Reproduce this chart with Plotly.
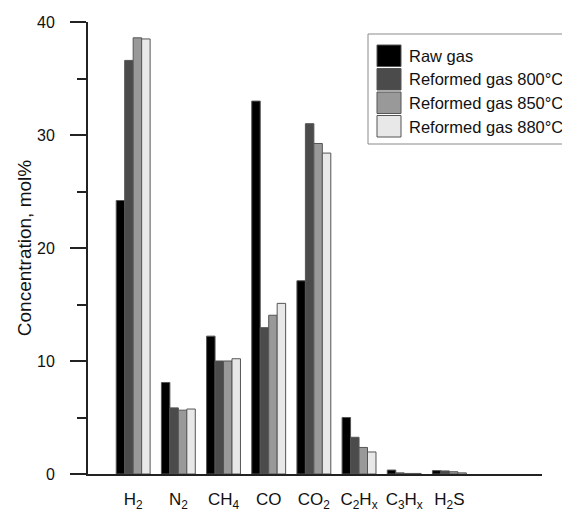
import plotly.graph_objects as go

# ---- data ----
categories = ["H<sub>2</sub>", "N<sub>2</sub>", "CH<sub>4</sub>", "CO", "CO<sub>2</sub>",
              "C<sub>2</sub>H<sub>x</sub>", "C<sub>3</sub>H<sub>x</sub>", "H<sub>2</sub>S"]
series_names = ["Raw gas", "Reformed gas 800°C", "Reformed gas 850°C", "Reformed gas 880°C"]
raw_gas = [24.2, 8.1, 12.2, 33.0, 17.1, 5.0, 0.35, 0.3]
reformed_800 = [36.6, 5.85, 10.0, 12.95, 31.0, 3.25, 0.1, 0.27]
reformed_850 = [38.6, 5.65, 10.0, 14.05, 29.25, 2.35, 0.05, 0.2]
reformed_880 = [38.5, 5.75, 10.2, 15.1, 28.4, 1.95, 0.05, 0.1]
y_ticks = [0, 10, 20, 30, 40]
y_minor = [5, 15, 25, 35]

colors = ["#000000", "#4b4b4b", "#999999", "#e8e8e8"]
FONT = "Liberation Sans, Arial, sans-serif"

# the page body has an 8px margin, so the figure is drawn 8px in from the top-left
OFF = 8
W, H = 570 - OFF, 511 - OFF
ML, MR, MT, MB = 88 - OFF, 28, 22 - OFF, 37
PW, PH = W - ML - MR, H - MT - MB


def px(x):  # screen x -> paper
    return (x - OFF - ML) / PW


def py(y):  # screen y -> paper
    return (511 - MB - y) / PH


fig = go.Figure()
for name, vals, col in zip(series_names, [raw_gas, reformed_800, reformed_850, reformed_880], colors):
    fig.add_trace(go.Bar(
        x=categories, y=vals, name=name,
        marker=dict(color=col, line=dict(color="#555555", width=1)),
        showlegend=False,
    ))

# custom legend (large swatches like the reference)
shapes = [dict(type="rect", xref="paper", yref="paper",
               x0=px(368), x1=px(569), y0=py(144), y1=py(34),
               line=dict(color="#8a8a8a", width=1), fillcolor="white", layer="above")]
annotations = []
for i, (name, col) in enumerate(zip(series_names, colors)):
    top = 45 + i * 23.5
    shapes.append(dict(type="rect", xref="paper", yref="paper",
                       x0=px(377), x1=px(401), y0=py(top + 21.5), y1=py(top),
                       line=dict(color="#555555", width=1), fillcolor=col, layer="above"))
    annotations.append(dict(xref="paper", yref="paper", x=px(407), y=py(top + 11),
                            xanchor="left", yanchor="middle", text=name, showarrow=False,
                            font=dict(family=FONT, size=16.5, color="#111111")))

fig.update_layout(
    width=W, height=H,
    margin=dict(l=ML, r=MR, t=MT, b=MB, autoexpand=False),
    paper_bgcolor="white", plot_bgcolor="white",
    barmode="group", bargap=0.25, bargroupgap=0,
    font=dict(family=FONT, color="#111111"),
    shapes=shapes, annotations=annotations,
    xaxis=dict(
        type="category", range=[-1, len(categories) + 1.05], automargin=False,
        showline=True, linecolor="#222222", linewidth=2,
        ticks="", showgrid=False, zeroline=False,
        tickfont=dict(size=17, family=FONT), ticklabelstandoff=9,
    ),
    yaxis=dict(
        range=[0, 40], tickvals=y_ticks, automargin=False,
        showline=True, linecolor="#222222", linewidth=2,
        ticks="outside", ticklen=16, tickwidth=2, tickcolor="#222222",
        minor=dict(tickvals=y_minor, ticks="outside", ticklen=9, tickwidth=2, tickcolor="#222222"),
        showgrid=False, zeroline=False,
        tickfont=dict(size=16, family=FONT), ticklabelstandoff=12,
        title=dict(text="Concentration, mol%", font=dict(size=19, family=FONT), standoff=0),
    ),
)

fig.write_html("out.html")
